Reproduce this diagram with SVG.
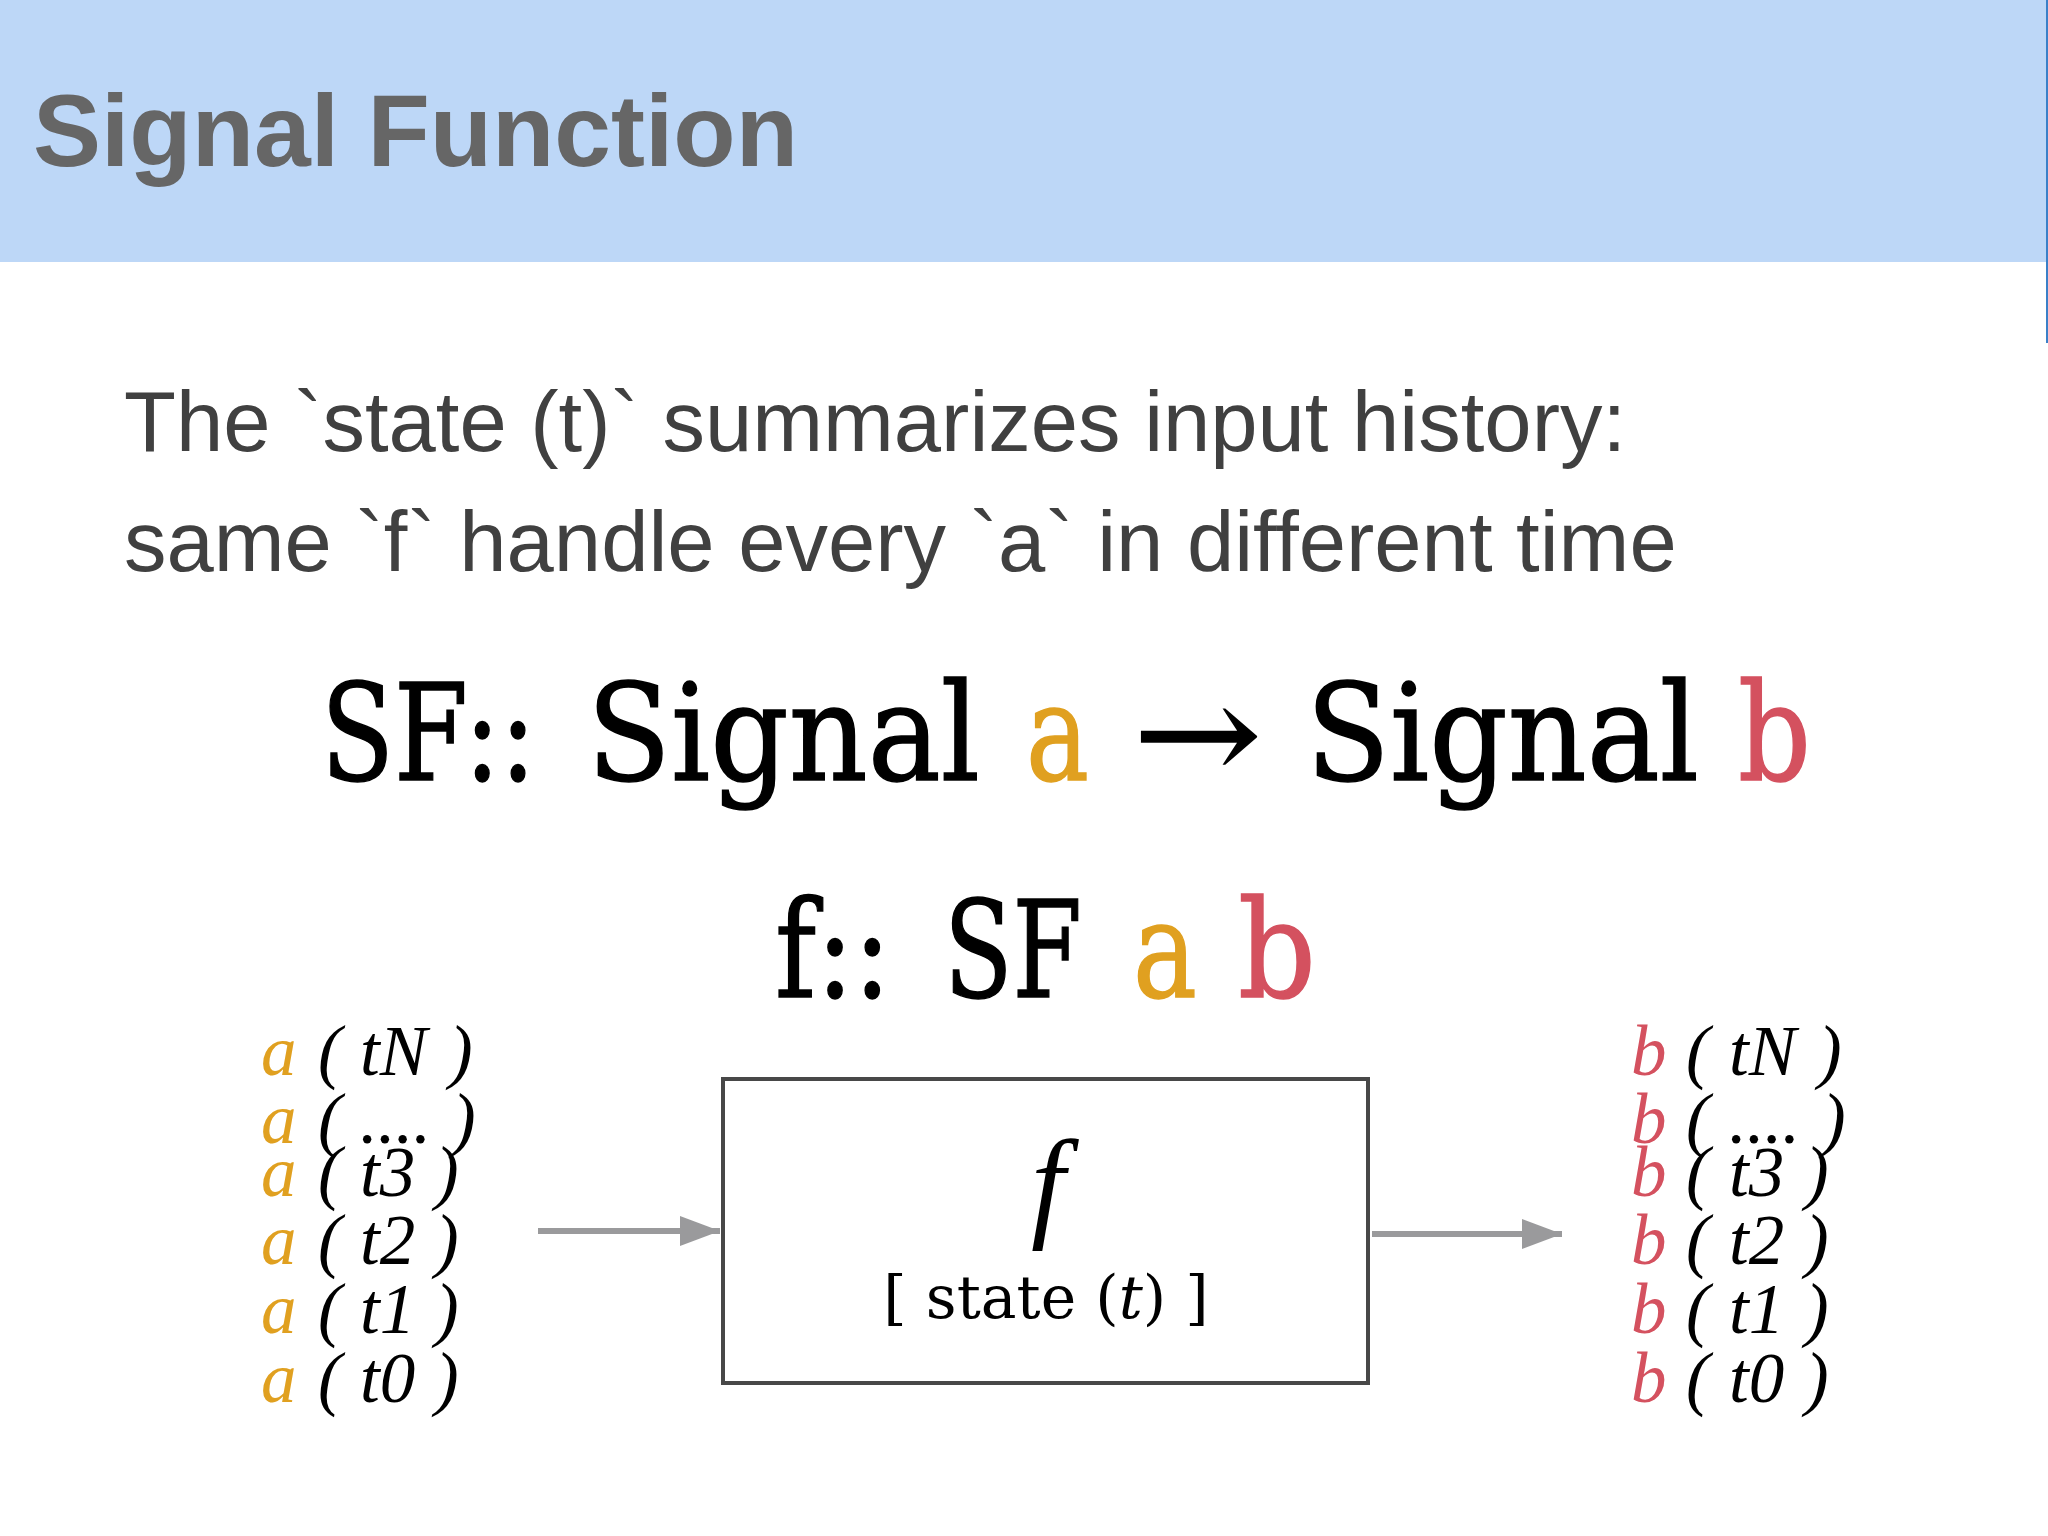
<svg xmlns="http://www.w3.org/2000/svg" width="2048" height="1536" viewBox="0 0 2048 1536">
<defs>
<style>
.title{font-family:"Liberation Sans",Arial,sans-serif;font-weight:bold;font-size:102px;fill:#666666}
.body{font-family:"Liberation Sans",Arial,sans-serif;font-size:85px;fill:#404040}
.formula{font-family:"DejaVu Serif","Liberation Serif",serif;font-size:134px;fill:#000000;stroke:#000000;stroke-width:1.5}
.list{font-family:"Liberation Serif","Times New Roman",serif;font-style:italic;font-size:71px;fill:#000000}
.ca{fill:#e0a020;stroke:#e0a020}
.cb{fill:#d4515f;stroke:#d4515f}
.list .ca,.list .cb{stroke:none}
.conn{stroke:#9a9a9c;stroke-width:6;fill:none}
</style>
<marker id="arr" markerUnits="userSpaceOnUse" markerWidth="40" markerHeight="30" refX="40" refY="15" orient="auto">
<path d="M0,0 L40,15 L0,30 Z" fill="#9a9a9c"/>
</marker>
</defs>
<rect x="0" y="0" width="2048" height="1536" fill="#ffffff"/>
<g id="header">
<rect x="0" y="0" width="2048" height="262" fill="#bdd7f7"/>
<line x1="2047" y1="0" x2="2047" y2="343" stroke="#3a80c8" stroke-width="2"/>
<text class="title" x="33" y="166">Signal Function</text>
</g>
<g id="description">
<text class="body" x="124" y="451">The `state (t)` summarizes input history:</text>
<text class="body" x="124" y="571">same `f` handle every `a` in different time</text>
</g>
<g id="formula1" class="formula">
<text x="321" y="780" textLength="215" lengthAdjust="spacingAndGlyphs">SF::</text>
<text x="587" y="780" textLength="393" lengthAdjust="spacingAndGlyphs">Signal</text>
<text x="1026" y="780" class="ca" textLength="63" lengthAdjust="spacingAndGlyphs">a</text>
<text x="1133" y="780" textLength="129" lengthAdjust="spacingAndGlyphs">→</text>
<text x="1306" y="780" textLength="393" lengthAdjust="spacingAndGlyphs">Signal</text>
<text x="1738" y="780" class="cb" textLength="73" lengthAdjust="spacingAndGlyphs">b</text>
</g>
<g id="formula2" class="formula">
<text x="775" y="997" textLength="116" lengthAdjust="spacingAndGlyphs">f::</text>
<text x="944" y="997" textLength="138" lengthAdjust="spacingAndGlyphs">SF</text>
<text x="1133" y="997" class="ca" textLength="64" lengthAdjust="spacingAndGlyphs">a</text>
<text x="1238" y="997" class="cb" textLength="78" lengthAdjust="spacingAndGlyphs">b</text>
</g>
<g id="inputs" class="list">
<text y="1075"><tspan x="261" class="ca">a</tspan><tspan x="318">(</tspan><tspan x="360">tN</tspan><tspan x="449">)</tspan></text>
<text y="1143"><tspan x="261" class="ca">a</tspan><tspan x="318">(</tspan><tspan x="360">....</tspan><tspan x="452">)</tspan></text>
<text y="1196"><tspan x="261" class="ca">a</tspan><tspan x="318">(</tspan><tspan x="360">t3</tspan><tspan x="435">)</tspan></text>
<text y="1264"><tspan x="261" class="ca">a</tspan><tspan x="318">(</tspan><tspan x="360">t2</tspan><tspan x="435">)</tspan></text>
<text y="1333"><tspan x="261" class="ca">a</tspan><tspan x="318">(</tspan><tspan x="360">t1</tspan><tspan x="435">)</tspan></text>
<text y="1402"><tspan x="261" class="ca">a</tspan><tspan x="318">(</tspan><tspan x="360">t0</tspan><tspan x="435">)</tspan></text>
</g>
<g id="outputs" class="list">
<text y="1075"><tspan x="1631" class="cb">b</tspan><tspan x="1686">(</tspan><tspan x="1729">tN</tspan><tspan x="1818">)</tspan></text>
<text y="1143"><tspan x="1631" class="cb">b</tspan><tspan x="1686">(</tspan><tspan x="1729">....</tspan><tspan x="1822">)</tspan></text>
<text y="1196"><tspan x="1631" class="cb">b</tspan><tspan x="1686">(</tspan><tspan x="1729">t3</tspan><tspan x="1805">)</tspan></text>
<text y="1264"><tspan x="1631" class="cb">b</tspan><tspan x="1686">(</tspan><tspan x="1729">t2</tspan><tspan x="1805">)</tspan></text>
<text y="1333"><tspan x="1631" class="cb">b</tspan><tspan x="1686">(</tspan><tspan x="1729">t1</tspan><tspan x="1805">)</tspan></text>
<text y="1402"><tspan x="1631" class="cb">b</tspan><tspan x="1686">(</tspan><tspan x="1729">t0</tspan><tspan x="1805">)</tspan></text>
</g>
<g id="f-box">
<rect x="723" y="1079" width="645" height="304" fill="#ffffff" stroke="#484848" stroke-width="4"/>
<text x="1048" y="1225" text-anchor="middle" font-family="'Liberation Serif','Times New Roman',serif" font-style="italic" font-size="122" fill="#000000">f</text>
<text x="1046" y="1318" text-anchor="middle" font-family="'DejaVu Serif','Liberation Serif',serif" font-size="60" fill="#000000">[ state (<tspan font-style="italic">t</tspan>) ]</text>
</g>
<g id="connectors">
<line class="conn" x1="538" y1="1231" x2="720" y2="1231" marker-end="url(#arr)"/>
<line class="conn" x1="1372" y1="1234" x2="1562" y2="1234" marker-end="url(#arr)"/>
</g>
</svg>
